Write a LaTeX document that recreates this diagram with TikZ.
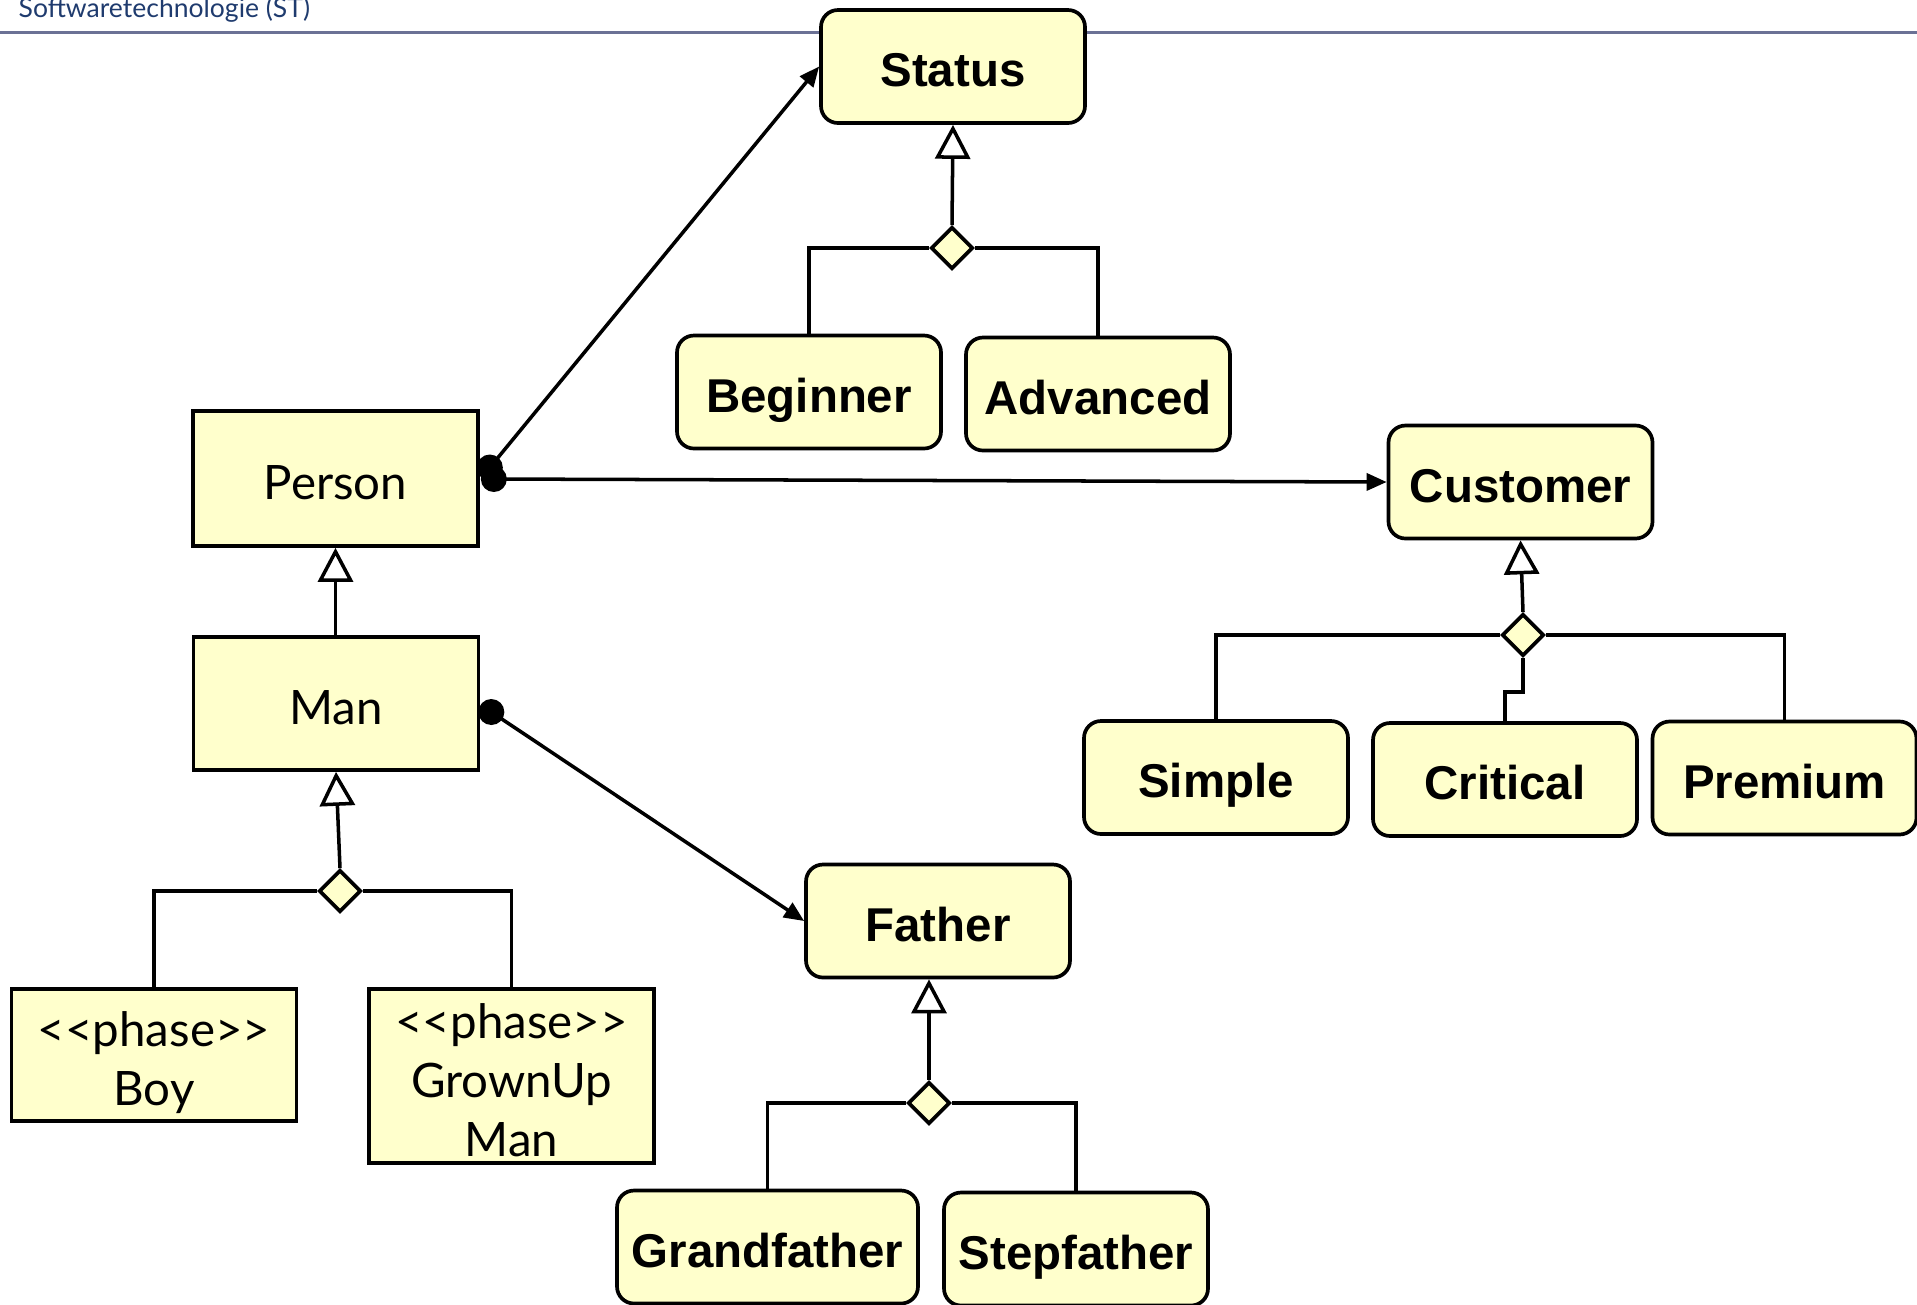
\documentclass[tikz,border=0pt]{standalone}
\usepackage{fontspec}
\setmainfont{Lato}
\newfontfamily\arialb{Liberation Sans}
\usetikzlibrary{arrows.meta,shapes.geometric,positioning}
\definecolor{classyellow}{HTML}{FFFFCC}
\definecolor{headblue}{HTML}{1F3B6E}
\definecolor{rulegray}{HTML}{6B7195}

\begin{document}
\begin{tikzpicture}[
  cls/.style={draw,line width=1.05pt,fill=classyellow,minimum width=2.85cm,
    font=\fontsize{13.5}{16.8}\selectfont,align=center,inner sep=0pt,
    text height=0.42cm,text depth=0pt},
  rbox/.style={draw,line width=1.05pt,rounded corners=0.17cm,fill=classyellow,
    minimum width=2.64cm,minimum height=1.13cm,inner sep=0pt,
    text height=0.40cm,text depth=0pt,
    font=\arialb\bfseries\fontsize{13.5}{16}\selectfont},
  junc/.style={draw,diamond,line width=1.05pt,fill=classyellow,
    minimum width=0.42cm,minimum height=0.42cm,inner sep=0pt},
  gen/.style={line width=1pt,-{Triangle[open,length=0.34cm,width=0.35cm]}},
  assoc/.style={line width=1pt,-{Triangle[length=0.2cm,width=0.17cm]}},
  branch/.style={line width=1pt}]
  \useasboundingbox (0,0) rectangle (19.17,-13.04);
  \fill[rulegray] (0,-0.305) rectangle (19.17,-0.335);
  \node[anchor=base west,text=headblue,inner sep=0pt,
    font=\fontsize{7.55}{9}\selectfont] (title) at (0.18,-0.17) {Softwaretechnologie (ST)};

  \node[cls,minimum height=1.35cm] (person) at (3.355,-4.785) {Person};
  \node[cls,minimum height=1.33cm] (man) at (3.36,-7.035) {Man};
  \node[cls,minimum height=1.32cm,text height=1.013cm] (boy) at (1.54,-10.55)
    {<\kern0pt<phase>\kern0pt>\\Boy};
  \node[cls,minimum height=1.74cm,text height=1.606cm] (grownup) at (5.115,-10.76)
    {<\kern0pt<phase>\kern0pt>\\GrownUp\\Man};

  \node[rbox] (status) at (9.53,-0.665) {Status};
  \node[rbox] (beginner) at (8.09,-3.92) {Beginner};
  \node[rbox] (advanced) at (10.98,-3.94) {Advanced};
  \node[rbox] (customer) at (15.205,-4.82) {Customer};
  \node[rbox] (simple) at (12.16,-7.775) {Simple};
  \node[rbox] (critical) at (15.05,-7.795) {Critical};
  \node[rbox] (premium) at (17.845,-7.78) {Premium};
  \node[rbox] (father) at (9.38,-9.21) {Father};
  \node[rbox,minimum width=3.01cm] (grandfather) at (7.675,-12.47) {Grandfather};
  \node[rbox] (stepfather) at (10.76,-12.49) {Stepfather};

  \node[junc] (jstatus) at (9.52,-2.48) {};
  \node[junc] (jman) at (3.40,-8.91) {};
  \node[junc] (jfather) at (9.29,-11.03) {};
  \node[junc] (jcustomer) at (15.23,-6.35) {};

  \draw[gen] (person.south |- man.north) -- (person.south);
  \draw[gen] (jman.north) -- (man.south);
  \draw[branch] (jman.west) -| (boy.north);
  \draw[branch] (jman.east) -| (grownup.north);

  \draw[gen] (jstatus.north) -- (status.south);
  \draw[branch] (jstatus.west) -| (beginner.north);
  \draw[branch] (jstatus.east) -| (advanced.north);

  \draw[gen] (jfather.north) -- (jfather |- father.south);
  \draw[branch] (jfather.west) -| (grandfather.north);
  \draw[branch] (jfather.east) -| (stepfather.north);

  \draw[gen] (jcustomer.north) -- (customer.south);
  \draw[branch] (jcustomer.west) -| (simple.north);
  \draw[branch] (jcustomer.east) -| (premium.north);
  \draw[branch] (jcustomer.south) -- ++(0,-0.34) -| (critical.north);

  \draw[assoc] ([shift={(0.1,0.11)}]person.east) coordinate (dstatus) -- (status.west);
  \draw[assoc] ([shift={(0.14,-0.005)}]person.east) coordinate (dcustomer) -- (customer.west);
  \draw[assoc] ([shift={(0.11,-0.085)}]man.east) coordinate (dfather) -- (father.west);
  \fill (dstatus) circle(0.13);
  \fill (dcustomer) circle(0.13);
  \fill (dfather) circle(0.13);
\end{tikzpicture}
\end{document}
